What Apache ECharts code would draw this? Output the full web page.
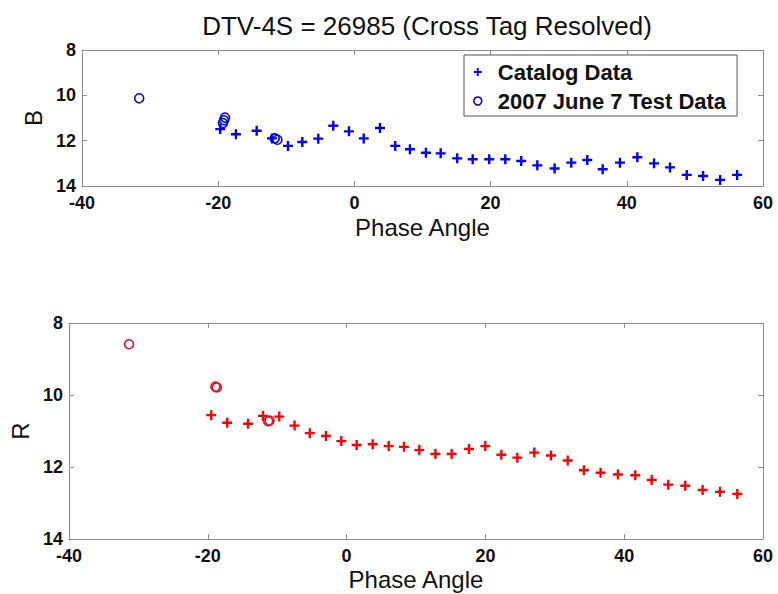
<!DOCTYPE html>
<html>
<head>
<meta charset="utf-8">
<script src="https://cdn.jsdelivr.net/npm/echarts@6/dist/echarts.min.js"></script>
<style>
html,body{margin:0;padding:0;background:#fff;}
#chart{width:778px;height:594px;}
</style>
</head>
<body>
<div id="chart"></div>
<script>
// ---- data ----
const titleText = 'DTV-4S = 26985 (Cross Tag Resolved)';
const xTicks = [-40, -20, 0, 20, 40, 60];
const yTicks = [8, 10, 12, 14];

const catalogPhaseB = [-19.7,-17.4,-14.35,-12.1,-9.75,-7.65,-5.3,-3.1,-0.8,1.37,3.76,6.0,8.16,10.5,12.67,15.1,17.37,19.8,22.16,24.5,26.86,29.4,31.85,34.2,36.46,39.0,41.55,44.0,46.35,48.8,51.2,53.7,56.2];
const catalogB      = [11.49,11.72,11.56,11.9,12.23,12.06,11.91,11.34,11.59,11.9,11.44,12.23,12.38,12.53,12.56,12.78,12.82,12.82,12.82,12.9,13.09,13.23,12.97,12.85,13.26,12.97,12.73,13.0,13.18,13.51,13.56,13.73,13.51];
const testPhaseB = [-31.6,-19.0,-19.15,-19.3,-11.7,-11.3];
const testB      = [10.13,10.98,11.1,11.22,11.9,11.96];

const catalogPhaseR = [-19.5,-17.2,-14.2,-12.05,-9.7,-7.5,-5.3,-2.97,-0.76,1.45,3.76,6.07,8.27,10.48,12.8,15.14,17.64,19.99,22.3,24.6,27.05,29.45,31.86,34.2,36.6,39.1,41.6,43.96,46.35,48.8,51.3,53.8,56.3];
const catalogR      = [10.56,10.77,10.8,10.58,10.6,10.85,11.06,11.14,11.28,11.39,11.37,11.42,11.44,11.53,11.64,11.64,11.5,11.42,11.66,11.74,11.6,11.68,11.82,12.09,12.16,12.21,12.23,12.36,12.49,12.52,12.64,12.69,12.75];
const testPhaseR = [-31.35,-18.9,-18.7,-11.3,-11.1];
const testR      = [8.59,9.77,9.79,10.73,10.71];

const legendNames = ['Catalog Data', '2007 June 7 Test Data'];
// ------------------------------------------------

const pairs = (xs, ys) => xs.map((x, i) => [x, ys[i]]);
const FONT = "'Liberation Sans', Arial, Helvetica, sans-serif";
const PLUS = 'path://M3.8,0H6.2V3.8H10V6.2H6.2V10H3.8V6.2H0V3.8H3.8Z';
const BLUE = '#0000ff', RED = '#ff0000';
const AX = '#8c8c8c';

function xAxes(gi){
  const base = {
    type:'value', gridIndex:gi, min:xTicks[0], max:xTicks[xTicks.length-1], interval:20,
    splitLine:{show:false},
    axisLine:{show:true, onZero:false, lineStyle:{color:AX, width:1}},
    axisTick:{show:true, inside:true, length:5, lineStyle:{color:AX}},
  };
  return [
    Object.assign({}, base, {
      position:'bottom',
      name:'Phase Angle', nameLocation:'middle', nameGap: gi===0 ? 29 : 28,
      nameTextStyle:{fontFamily:FONT, fontSize:24, color:'#111', lineHeight:24},
      axisLabel:{show:true, margin:8, fontFamily:FONT, fontSize:18, fontWeight:'bold', color:'#111'}
    }),
    Object.assign({}, base, {position:'top', axisLabel:{show:false}})
  ];
}
function yAxes(gi, name, gap){
  const base = {
    type:'value', gridIndex:gi, min:yTicks[0], max:yTicks[yTicks.length-1], interval:2, inverse:true,
    splitLine:{show:false},
    axisLine:{show:true, onZero:false, lineStyle:{color:AX, width:1}},
    axisTick:{show:true, inside:true, length:5, lineStyle:{color:AX}},
  };
  return [
    Object.assign({}, base, {
      position:'left',
      name:name, nameLocation:'middle', nameGap:gap,
      nameTextStyle:{fontFamily:FONT, fontSize:24, color:'#111'},
      axisLabel:{show:true, margin:6, fontFamily:FONT, fontSize:18, fontWeight:'bold', color:'#111'}
    }),
    Object.assign({}, base, {position:'right', axisLabel:{show:false}})
  ];
}

const chart = echarts.init(document.getElementById('chart'), null, {renderer:'svg'});
const option = {
  animation:false,
  backgroundColor:'#ffffff',
  title:{
    text:titleText, left:422, top:8, textAlign:'center',
    textStyle:{fontFamily:FONT, fontSize:26, fontWeight:'normal', color:'#111'}
  },
  legend:{
    orient:'vertical', left:464, top:55,
    padding:[6, 11, 4, 9],
    itemWidth:30, itemHeight:8, itemGap:7,
    borderColor:'#555', borderWidth:1, borderRadius:0, backgroundColor:'#fff',
    textStyle:{fontFamily:FONT, fontSize:22, fontWeight:'bold', color:'#111', lineHeight:22},
    data:[
      {name:legendNames[0], icon:PLUS, itemStyle:{color:BLUE}},
      {name:legendNames[1], icon:'circle', itemStyle:{color:'#fff', borderColor:BLUE, borderWidth:1.6}}
    ]
  },
  grid:[
    {left:82, right:15, top:50, height:136, outerBoundsMode:'none'},
    {left:69, right:15, top:323, height:216, outerBoundsMode:'none'}
  ],
  xAxis: xAxes(0).concat(xAxes(1)),
  yAxis: yAxes(0, 'B', 37).concat(yAxes(1, 'R', 35)),
  series:[
    {name:legendNames[0], type:'scatter', xAxisIndex:0, yAxisIndex:0,
     symbol:PLUS, symbolSize:10, itemStyle:{color:BLUE, opacity:1},
     data:pairs(catalogPhaseB, catalogB)},
    {name:legendNames[1], type:'scatter', xAxisIndex:0, yAxisIndex:0,
     symbol:'circle', symbolSize:9, itemStyle:{color:'rgba(0,0,0,0)', borderColor:BLUE, borderWidth:1.6, opacity:1},
     data:pairs(testPhaseB, testB)},
    {name:'Catalog Data R', type:'scatter', xAxisIndex:2, yAxisIndex:2,
     symbol:PLUS, symbolSize:10, itemStyle:{color:RED, opacity:1},
     data:pairs(catalogPhaseR, catalogR)},
    {name:'2007 June 7 Test Data R', type:'scatter', xAxisIndex:2, yAxisIndex:2,
     symbol:'circle', symbolSize:9, itemStyle:{color:'rgba(0,0,0,0)', borderColor:'#e0101e', borderWidth:1.6, opacity:1},
     data:pairs(testPhaseR, testR)}
  ]
};
chart.setOption(option);
</script>
</body>
</html>
